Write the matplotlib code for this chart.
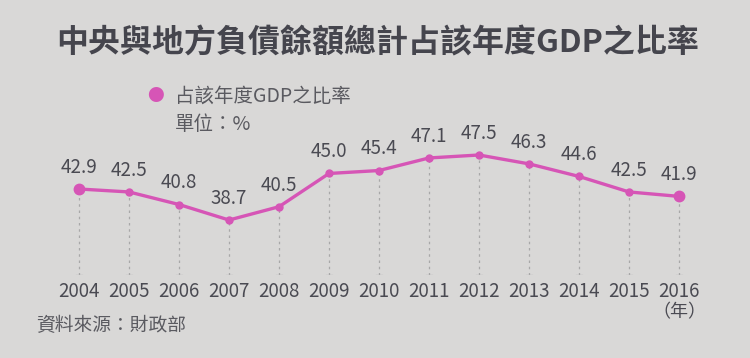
import matplotlib
matplotlib.use("Agg")
import matplotlib.pyplot as plt

plt.rcParams["font.family"] = ["Noto Sans CJK TC", "DejaVu Sans"]

# 数据
years = [2004, 2005, 2006, 2007, 2008, 2009, 2010, 2011, 2012, 2013, 2014, 2015, 2016]
ratio = [42.9, 42.5, 40.8, 38.7, 40.5, 45.0, 45.4, 47.1, 47.5, 46.3, 44.6, 42.5, 41.9]
year_labels = [str(y) for y in years]

title = "中央與地方負債餘額總計占該年度GDP之比率"
legend_text = "占該年度GDP之比率"
unit_text = "單位：%"
source_text = "資料來源：財政部"

BG = "#d9d8d7"
LINE = "#d655b6"
TEXT = "#4a4a52"
W, H = 750, 358

fig = plt.figure(figsize=(7.5, 3.58), dpi=100, facecolor=BG)

# 轴区域（像素）
ax_l, ax_r = 54, 704
ax_b, ax_t = 275, 100
ax = fig.add_axes([ax_l / W, 1 - ax_b / H, (ax_r - ax_l) / W, (ax_b - ax_t) / H])
ax.set_facecolor("none")
ymin = 47.5 - (ax_b - 155) / 7.39
ymax = ymin + (ax_b - ax_t) / 7.39
ax.set_xlim(2003.5, 2016.5)
ax.set_ylim(ymin, ymax)
for s in ax.spines.values():
    s.set_visible(False)
ax.set_xticks([])
ax.set_yticks([])

# 虚线
for x, v in zip(years, ratio):
    ax.plot([x, x], [ymin, v], color="#a8a8a8", linestyle=(0, (2, 3)), linewidth=0.9, zorder=1)
    ax.plot([x - 0.06, x + 0.06], [ymin + 0.05, ymin + 0.05], color="#a8a8a8", linewidth=0.9, zorder=1)

ax.plot(years, ratio, color=LINE, linewidth=2.4, zorder=3, solid_capstyle="round")
ax.plot(years[1:-1], ratio[1:-1], "o", color=LINE, markersize=5, zorder=4)
ax.plot([years[0], years[-1]], [ratio[0], ratio[-1]], "o", color=LINE, markersize=7.5, zorder=4)

for x, v in zip(years, ratio):
    ax.annotate(f"{v:.1f}", (x, v), xytext=(0, 8), textcoords="offset points",
                ha="center", va="bottom", fontsize=13.5, color=TEXT, fontweight="light")

for x, lab in zip(years, year_labels):
    ax.annotate(lab, (x, ymin), xytext=(0, -4), textcoords="offset points",
                ha="center", va="top", fontsize=13.5, color=TEXT, fontweight="light",
                annotation_clip=False)

def px(x, y):
    return x / W, 1 - y / H

fig.text(*px(378, 43), title, ha="center", va="center", fontsize=23,
         fontweight="bold", color="#45454d")

fig.text(*px(155, 96), "●", ha="center", va="center", fontsize=12, color=LINE)
fig.text(*px(175, 96), legend_text, ha="left", va="center", fontsize=14,
         color="#5a5a60", fontweight="light")
fig.text(*px(175, 124), unit_text, ha="left", va="center", fontsize=14,
         color="#5a5a60", fontweight="light")
fig.text(*px(679, 312), "（年）", ha="center", va="center", fontsize=13,
         color=TEXT, fontweight="light")
fig.text(*px(36, 326), source_text, ha="left", va="center", fontsize=13.5,
         color="#5a5a60", fontweight="light")

fig.savefig("out.png", dpi=100, facecolor=BG)
